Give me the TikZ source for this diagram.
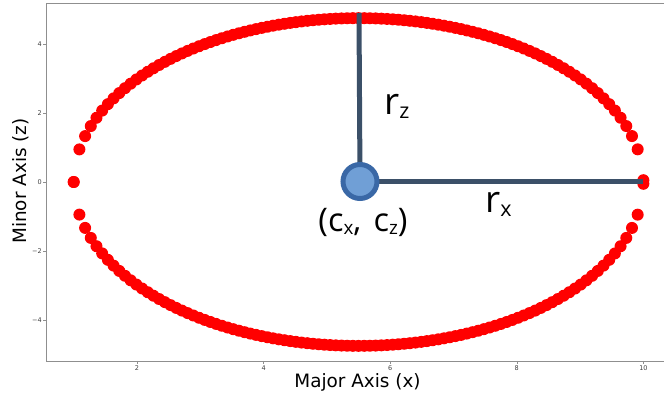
\documentclass[tikz,border=0pt]{standalone}
\usepackage{fontspec}
\setmainfont{DejaVu Sans}
\newfontfamily\notefont{Open Sans}
\usetikzlibrary{positioning}

\definecolor{dotred}{HTML}{FF0000}
\definecolor{armblue}{HTML}{3B5068}
\definecolor{ctrfill}{HTML}{709FD6}
\definecolor{ctrline}{HTML}{3A68A6}
\definecolor{spinegrey}{HTML}{8F8F8F}

\newcommand\lowsub[1]{\raisebox{-0.09em}{\scalebox{0.58}{#1}}}

\begin{document}
\begin{tikzpicture}[x=1pt,y=-1pt,
		spine/.style={spinegrey,line width=0.9pt},
		tickmark/.style={spinegrey,line width=0.6pt},
		ticklbl/.style={font=\fontsize{6.5}{7}\selectfont,text=black!75,inner sep=1pt},
		axlbl/.style={font=\fontsize{18.4}{20}\selectfont,inner sep=0pt},
		arm/.style={armblue,line width=5pt},
		ctrmark/.style={circle,draw=ctrline,fill=ctrfill,line width=5pt,minimum size=34pt,inner sep=0pt},
		note/.style={font=\notefont\fontsize{37}{40}\selectfont,inner sep=0pt},
	]
		\useasboundingbox (0,0) rectangle (665,398);

		% frame
		\coordinate (tl) at (46,3);
		\coordinate (bl) at (46,361);
		\coordinate (br) at (664,361);
		\coordinate (tr) at (664,3);
		\draw[spine] (tr) -- (tl) -- (bl) -- (br);

		% ticks
		\foreach \v in {-4,-2,0,2,4} {
			\pgfmathsetmacro\py{182-34.5*\v}
			\draw[tickmark] (46,\py) -- (43,\py)
				node[left,ticklbl] {\ifnum\v<0 −\the\numexpr-\v\relax\else\v\fi};
		}
		\foreach \v in {2,4,6,8,10} {
			\pgfmathsetmacro\px{10.4+63.3*\v}
			\draw[tickmark] (\px,361) -- (\px,364)
				node[below,ticklbl] {\v};
		}

		\node[axlbl,rotate=90,anchor=base] (ylbl) at (27,181) {Minor Axis (z)};
		\node[axlbl,anchor=base] (xlbl) at (357.5,388) {Major Axis (x)};

		% ellipse points
		\begin{scope}[shift={(10.4,182)},x=63.3pt,y=34.5pt]
			\foreach \i in {0,...,100} {
				\pgfmathsetmacro\xx{1+0.09*\i}
				\pgfmathsetmacro\zz{4.75*sqrt(max(0,1-((\xx-5.5)/4.5)*((\xx-5.5)/4.5)))}
				\fill[dotred] (\xx,\zz) circle[radius=6pt];
				\fill[dotred] (\xx,-\zz) circle[radius=6pt];
			}
		\end{scope}

		% radii and centre
		\coordinate (c) at (360,181.5);
		\coordinate (rztop) at (359,13);
		\coordinate (rxend) at (643,181.5);
		\draw[arm] (c) -- (rztop);
		\draw[arm] (c) -- (rxend);
		\node[ctrmark] (ctr) at (c) {};

		\node[note,anchor=base west] (rz) at (384,115) {r\lowsub{z}};
		\node[note,anchor=base west] (rx) at (485,213) {r\lowsub{x}};
		\node[note,font=\notefont\fontsize{32.5}{35}\selectfont,anchor=base] (clbl) at (363,231.5) {(c\lowsub{x},\hspace{0.12em} c\lowsub{z})};
	\end{tikzpicture}
\end{document}
